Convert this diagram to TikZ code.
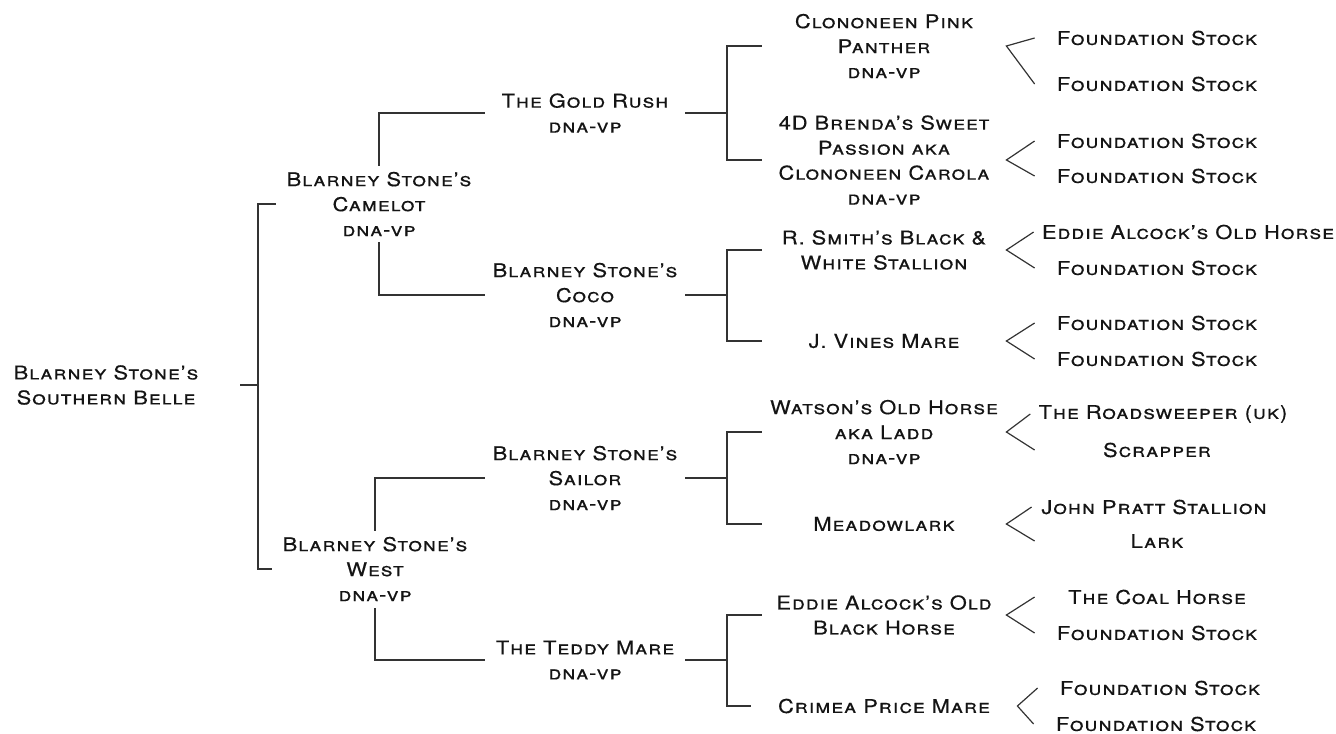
\documentclass[tikz,border=0pt]{standalone}
\usepackage{fontspec}
\setmainfont{TeX Gyre Heros}[LetterSpace=5,FakeStretch=1.15,FakeBold=0.4]

\begin{document}
\begin{tikzpicture}[x=0.5pt,y=-0.5pt,
  horse/.style={align=center,inner xsep=0pt,inner ysep=3pt,text=kText,
    font=\fontsize{9.5}{12.5}\selectfont\scshape},
  gen1/.style={horse,minimum width=103pt},
  gen2/.style={horse,minimum width=100pt},
  gen3/.style={horse,minimum width=122pt},
  gen4/.style={horse,minimum width=122pt},
  link/.style={draw=kLine,line width=1pt},
  chev/.style={draw=kLine,line width=0.6pt}]
  \definecolor{kText}{rgb}{0.08,0.08,0.08}
  \definecolor{kLine}{rgb}{0.2,0.2,0.2}

  \useasboundingbox (0,0) rectangle (1336,733);

  \node[horse,minimum width=134pt] (root) at (106,385) {Blarney Stone's\\Southern Belle};

  \node[gen1] (camelot) at (379,204) {Blarney Stone's\\Camelot\\dna-vp};
  \node[gen1] (west) at (375,569) {Blarney Stone's\\West\\dna-vp};

  \node[gen2] (goldrush) at (585,113) {The Gold Rush\\dna-vp};
  \node[gen2] (coco) at (585,295) {Blarney Stone's\\Coco\\dna-vp};
  \node[gen2] (sailor) at (585,478) {Blarney Stone's\\Sailor\\dna-vp};
  \node[gen2] (teddy) at (585,660) {The Teddy Mare\\dna-vp};

  \node[gen3] (pink) at (884,46) {Clononeen Pink\\Panther\\dna-vp};
  \node[gen3] (brenda) at (884,160) {4D Brenda's Sweet\\Passion aka\\Clononeen Carola\\dna-vp};
  \node[gen3] (smith) at (884,250) {R. Smith's Black \&\\White Stallion};
  \node[gen3] (vines) at (884,341) {J. Vines Mare};
  \node[gen3] (watson) at (884,432) {Watson's Old Horse\\aka Ladd\\dna-vp};
  \node[gen3] (meadow) at (884,524) {Meadowlark};
  \node[gen3] (alcock) at (884,615) {Eddie Alcock's Old\\Black Horse};
  \node[gen3,minimum width=133pt] (crimea) at (884,706) {Crimea Price Mare};

  \node[gen4] (fsA) at (1157,38) {Foundation Stock};
  \node[gen4] (fsB) at (1157,84) {Foundation Stock};
  \node[gen4] (fsC) at (1157,141) {Foundation Stock};
  \node[gen4] (fsD) at (1157,176) {Foundation Stock};
  \node[gen4,inner xsep=4pt] (eddie) at (1188,232) {Eddie Alcock's Old Horse};
  \node[gen4] (fsE) at (1157,268) {Foundation Stock};
  \node[gen4] (fsF) at (1157,323) {Foundation Stock};
  \node[gen4] (fsG) at (1157,359) {Foundation Stock};
  \node[gen4,inner xsep=4pt] (roads) at (1163,414) {The Roadsweeper (uk)};
  \node[gen4] (scrap) at (1157,450) {Scrapper};
  \node[gen4] (pratt) at (1154,507) {John Pratt Stallion};
  \node[gen4] (lark) at (1157,541) {Lark};
  \node[gen4] (coal) at (1157,597) {The Coal Horse};
  \node[gen4] (fsH) at (1157,633) {Foundation Stock};
  \node[gen4] (fsI) at (1160,688) {Foundation Stock};
  \node[gen4] (fsJ) at (1156,724) {Foundation Stock};

  \draw[link] (root.east) -- ++(18,0) coordinate (rootj) (camelot.west) -| (rootj) |- (west.west);

  \draw[link] (goldrush.west) -| (camelot.north);
  \draw[link] (coco.west) -| (camelot.south);
  \draw[link] (sailor.west) -| (west.north);
  \draw[link] (teddy.west) -| (west.south);

  \draw[link] (goldrush.east) -- ++(42,0) coordinate (goldj) (pink.west) -| (goldj) |- (brenda.west);
  \draw[link] (coco.east) -- ++(42,0) coordinate (cocoj) (smith.west) -| (cocoj) |- (vines.west);
  \draw[link] (sailor.east) -- ++(42,0) coordinate (sailj) (watson.west) -| (sailj) |- (meadow.west);
  \draw[link] (teddy.east) -- ++(42,0) coordinate (teddj) (alcock.west) -| (teddj) |- (crimea.west);

  \foreach \kid/\sire/\dam in {pink/fsA/fsB,brenda/fsC/fsD,smith/eddie/fsE,vines/fsF/fsG,
      watson/roads/scrap,meadow/pratt/lark,alcock/coal/fsH,crimea/fsI/fsJ}
    \draw[chev] (\sire.west) -- (\kid.east) -- (\dam.west);

\end{tikzpicture}
\end{document}
